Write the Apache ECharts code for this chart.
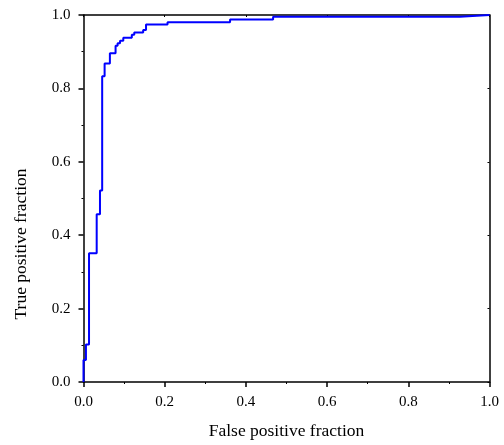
<!DOCTYPE html>
<html>
<head>
<meta charset="utf-8">
<script src="https://cdn.jsdelivr.net/npm/echarts@6/dist/echarts.min.js"></script>
<style>
  html, body { margin: 0; padding: 0; background: #fff; }
  #chart { width: 504px; height: 445px; }
</style>
</head>
<body>
<div id="chart"></div>
<script>
// ROC curve corner points (false positive fraction, true positive fraction)
var fpr = [0, 0, 0.006, 0.0136, 0.0325, 0.0406, 0.046, 0.052, 0.065, 0.079, 0.084,
  0.09, 0.098, 0.119, 0.125, 0.147, 0.154, 0.207, 0.361, 0.467, 0.927, 1.0];
var tpr = [0, 0.06, 0.102, 0.351, 0.457, 0.522, 0.833, 0.868, 0.896, 0.916, 0.923,
  0.93, 0.938, 0.946, 0.952, 0.959, 0.974, 0.98, 0.988, 0.995, 1.0, 1.0];
var xTitle = "False positive fraction";
var yTitle = "True positive fraction";

var chart = echarts.init(document.getElementById("chart"));
var font = "Liberation Serif";

var points = fpr.map(function (x, i) { return [x, tpr[i]]; });

var mainAxis = function (name, gap) {
  return {
    type: "value",
    min: 0,
    max: 1,
    interval: 0.2,
    name: name,
    nameLocation: "middle",
    nameGap: gap,
    nameTextStyle: { fontFamily: font, fontSize: 17.5, color: "#000" },
    axisLine: { show: true, onZero: false, lineStyle: { color: "#000", width: 1.5 } },
    axisTick: { show: true, length: 5, lineStyle: { color: "#000", width: 1.5 } },
    minorTick: { show: true, splitNumber: 2, length: 2, lineStyle: { color: "#000", width: 1 } },
    axisLabel: {
      fontFamily: font, fontSize: 15, color: "#000", margin: 13,
      formatter: function (v) { return v.toFixed(1); }
    },
    splitLine: { show: false }
  };
};

var mirrorAxis = function (pos) {
  return {
    type: "value",
    position: pos,
    min: 0,
    max: 1,
    interval: 0.2,
    axisLine: { show: true, onZero: false, lineStyle: { color: "#000", width: 1.5 } },
    axisTick: { show: true, inside: true, length: 2, lineStyle: { color: "#000", width: 1 } },
    minorTick: { show: false },
    axisLabel: { show: false },
    splitLine: { show: false }
  };
};

var xMain = mainAxis(xTitle, 40);
xMain.position = "bottom";
var yMain = mainAxis("", 48);
yMain.position = "left";

chart.setOption({
  animation: false,
  grid: { left: 83.5, right: 14.5, top: 15, bottom: 60 },
  xAxis: [xMain, mirrorAxis("top")],
  yAxis: [yMain, mirrorAxis("right")],
  // y title sits below the plot middle in the original, so place it by hand
  graphic: [
    {
      type: "text",
      x: 21,
      y: 244,
      rotation: Math.PI / 2,
      style: {
        text: yTitle,
        fontFamily: font,
        fontSize: 17.5,
        fill: "#000",
        align: "center",
        verticalAlign: "middle"
      }
    }
  ],
  series: [
    {
      type: "line",
      step: "end",
      clip: false,
      data: points,
      showSymbol: false,
      lineStyle: { color: "#0000ff", width: 2 },
      itemStyle: { color: "#0000ff" }
    }
  ]
});
</script>
</body>
</html>
